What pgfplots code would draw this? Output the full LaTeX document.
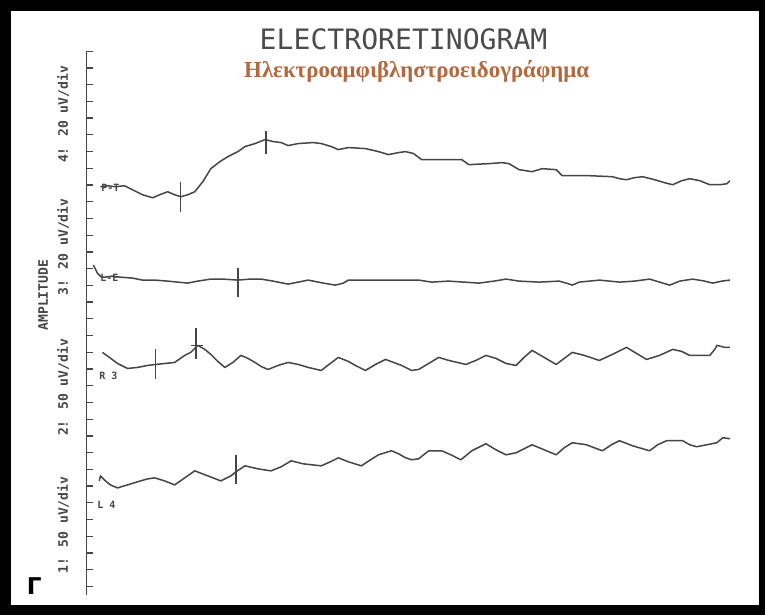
\documentclass[border=0pt]{standalone}
\usepackage{pgfplots}
\pgfplotsset{compat=1.18}
\usepackage{fontspec}
\setmainfont{DejaVu Sans}
\newfontfamily\plotter{DejaVu Sans Mono}
\newfontfamily\grserif{Liberation Serif}
\definecolor{trace}{RGB}{70,70,70}
\definecolor{brownt}{RGB}{180,104,62}
\begin{document}
\begin{tikzpicture}
\begin{axis}[
  width=765pt, height=617pt, scale only axis,
  xmin=0, xmax=765, ymin=0, ymax=617, y dir=reverse,
  axis lines=none, ticks=none, clip=false,
  tr/.style={draw=trace, line width=1.5pt, line join=round, mark=none},
]
% frame
\fill[black] (axis cs:3,4) rectangle (axis cs:765,617);
\fill[white] (axis cs:14,15) rectangle (axis cs:759,607);
% left scale
\draw[trace, line width=1.2pt] (axis cs:89,55) -- (axis cs:89,597);
\pgfplotsinvokeforeach{0,...,32}{
  \draw[trace, line width=1.3pt] (axis cs:89,{55+16.66*#1}) -- (axis cs:96,{55+16.66*#1});
}
% trace 4
\addplot[tr] coordinates {(103,190)(110,189)(118,190)(127,189)(135,193)(145,198)(155,201)(162,198)(170,195)(177,198)(183,200)(190,198)(197,195)(205,185)(213,172)(222,165)(230,160)(240,155)(247,150)(257,147)(267,143)(275,145)(283,146)(290,149)(300,147)(315,146)(323,147)(333,150)(340,153)(350,151)(367,152)(380,155)(390,158)(400,156)(407,155)(415,157)(423,163)(440,163)(463,163)(470,168)(490,167)(503,166)(510,167)(520,173)(533,175)(543,172)(557,173)(563,179)(590,179)(613,180)(620,182)(627,183)(635,181)(643,180)(655,183)(665,186)(673,188)(682,184)(690,182)(700,184)(710,188)(720,188)(727,187)(730,184)};
% trace 3
\addplot[tr] coordinates {(96,268)(100,276)(104,280)(108,280)(115,279)(122,280)(135,281)(145,283)(157,283)(170,284)(180,285)(190,286)(200,284)(213,282)(225,282)(240,283)(252,282)(263,282)(275,284)(290,287)(300,285)(310,283)(325,286)(337,288)(345,286)(350,283)(370,283)(390,283)(420,283)(433,285)(450,284)(465,285)(480,286)(495,284)(507,282)(520,284)(540,285)(560,284)(567,286)(573,288)(580,285)(600,283)(620,285)(635,284)(650,282)(660,285)(670,288)(680,284)(693,282)(705,284)(713,286)(722,284)(730,283)};
% trace 2
\addplot[tr] coordinates {(105,355)(112,360)(120,366)(130,371)(140,370)(150,368)(158,367)(168,366)(177,365)(187,358)(193,355)(200,348)(207,352)(213,357)(220,364)(227,370)(235,365)(243,358)(250,361)(257,365)(263,369)(270,372)(280,368)(290,365)(300,367)(310,370)(323,373)(332,366)(340,360)(350,364)(357,368)(367,373)(377,367)(387,362)(395,365)(403,368)(413,373)(420,372)(430,366)(440,360)(450,363)(467,367)(477,363)(487,358)(497,361)(507,366)(517,368)(525,360)(533,353)(545,360)(557,367)(565,361)(573,355)(585,358)(600,363)(613,357)(627,350)(637,356)(647,362)(660,358)(673,352)(682,354)(690,358)(700,358)(710,358)(715,352)(717,348)(725,350)(730,350)};
% trace 1
\addplot[tr] coordinates {(102,483)(103,478)(108,483)(113,487)(120,490)(130,487)(143,483)(150,481)(157,480)(167,483)(177,487)(187,480)(197,473)(210,478)(223,483)(233,478)(238,474)(247,468)(260,471)(273,473)(283,469)(293,463)(305,466)(323,468)(332,464)(340,460)(350,464)(363,468)(372,462)(380,457)(393,453)(400,456)(407,460)(413,462)(420,461)(430,453)(443,453)(452,457)(462,462)(473,453)(487,446)(497,452)(507,457)(517,455)(525,451)(533,447)(545,452)(557,457)(565,450)(573,445)(587,447)(603,453)(612,447)(620,443)(633,448)(650,453)(658,447)(667,443)(683,443)(690,447)(697,449)(707,447)(717,445)(723,440)(730,441)};
% cursors
\addplot[tr] coordinates {(183,185)(183,215)};
\addplot[tr] coordinates {(268,134)(268,157)};
\addplot[tr] coordinates {(240,271)(240,300)};
\addplot[tr] coordinates {(158,352)(158,382)};
\addplot[tr] coordinates {(198,331)(198,362)};
\addplot[tr] coordinates {(193,348)(205,348)};
\addplot[tr] coordinates {(238,457)(238,486)};
% channel labels
\node[trace, font=\plotter\bfseries\fontsize{10}{10}\selectfont] at (axis cs:113,191) {P-T};
\node[trace, font=\plotter\bfseries\fontsize{10}{10}\selectfont] at (axis cs:112,281) {L-E};
\node[trace, font=\plotter\bfseries\fontsize{10}{10}\selectfont] at (axis cs:111,378) {R 3};
\node[trace, font=\plotter\bfseries\fontsize{10}{10}\selectfont] at (axis cs:109,507) {L 4};
% axis labels
\node[trace, rotate=90, font=\plotter\bfseries\fontsize{13}{14}\selectfont] at (axis cs:66,118) {4! 20 uV/div};
\node[trace, rotate=90, font=\plotter\bfseries\fontsize{13}{14}\selectfont] at (axis cs:66,250) {3! 20 uV/div};
\node[trace, rotate=90, font=\plotter\bfseries\fontsize{13}{14}\selectfont] at (axis cs:46,298) {AMPLITUDE};
\node[trace, rotate=90, font=\plotter\bfseries\fontsize{13}{14}\selectfont] at (axis cs:66,390) {2! 50 uV/div};
\node[trace, rotate=90, font=\plotter\bfseries\fontsize{13}{14}\selectfont] at (axis cs:66,527) {1! 50 uV/div};
% titles
\node[black!70, font=\plotter\fontsize{28}{28}\selectfont] at (axis cs:405,43) {ELECTRORETINOGRAM};
\node[brownt, font=\grserif\bfseries\fontsize{22.8}{23}\selectfont] at (axis cs:418,75) {Ηλεκτροαμφιβληστροειδογράφημα};
\node[black, font=\bfseries\fontsize{23}{23}\selectfont] at (axis cs:37,588) {Γ};
\end{axis}
\end{tikzpicture}
\end{document}
